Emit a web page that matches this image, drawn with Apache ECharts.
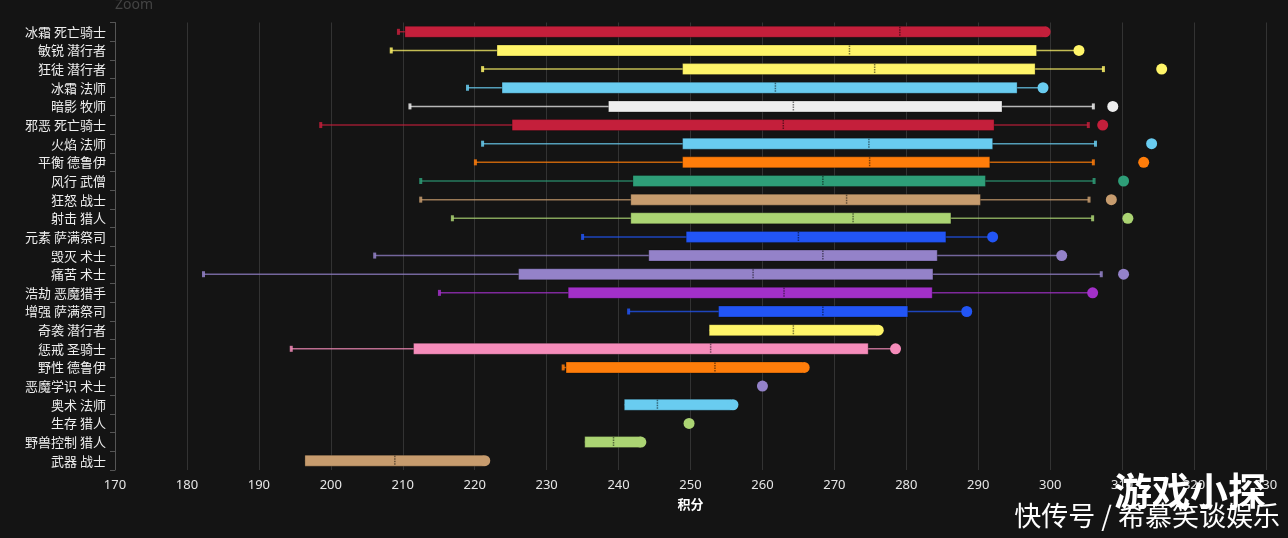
<!DOCTYPE html>
<html>
<head>
<meta charset="utf-8">
<script src="https://cdn.jsdelivr.net/npm/echarts@6/dist/echarts.min.js"></script>
<style>
html,body{margin:0;padding:0;background:#141414;}
#main{width:1288px;height:538px;}
</style>
</head>
<body>
<div id="main"></div>
<script>
const categories = ['冰霜 死亡骑士','敏锐 潜行者','狂徒 潜行者','冰霜 法师','暗影 牧师','邪恶 死亡骑士','火焰 法师','平衡 德鲁伊','风行 武僧','狂怒 战士','射击 猎人','元素 萨满祭司','毁灭 术士','痛苦 术士','浩劫 恶魔猎手','增强 萨满祭司','奇袭 潜行者','惩戒 圣骑士','野性 德鲁伊','恶魔学识 术士','奥术 法师','生存 猎人','野兽控制 猎人','武器 战士'];
const whiskerLow  = [209.4,208.4,221.1,219.0,211.0,198.6,221.1,220.1,212.5,212.5,216.9,235.0,206.1,182.3,215.1,241.4,252.6,194.5,232.3,null,240.8,null,235.3,196.4];
const q1          = [210.3,223.1,248.9,223.8,238.6,225.2,248.9,248.9,242.0,241.7,241.7,249.4,244.2,226.1,233.0,253.9,252.6,211.5,232.7,null,240.8,null,235.3,196.4];
const median      = [279.1,272.1,275.6,261.8,264.3,262.9,274.8,274.9,268.4,271.7,272.6,265.0,268.4,258.7,263.0,268.4,264.3,252.8,253.4,null,245.4,null,239.3,208.9];
const q3          = [299.1,298.1,297.9,295.4,293.3,292.2,292.0,291.6,291.0,290.3,286.2,285.5,284.3,283.7,283.6,280.2,276.0,274.7,265.6,null,255.7,null,243.1,221.3];
const whiskerHigh = [299.3,304.0,307.4,299.0,306.0,305.3,306.3,306.0,306.1,305.4,305.9,292.0,301.6,307.1,305.9,288.4,276.0,278.5,265.6,null,255.7,null,243.1,221.3];
const dotValue    = [299.3,304.0,315.5,299.0,308.7,307.3,314.1,313.0,310.2,308.5,310.8,292.0,301.6,310.2,305.9,288.4,276.1,278.5,265.8,260.0,255.9,249.8,243.1,221.4];
const xTicks = {min:170, max:330, interval:10};

const DK='#C41F3B', ROGUE='#FFF569', MAGE='#69CCF0', PRIEST='#EEEEEE', DRUID='#FF7D0A', MONK='#2E9E78', WARRIOR='#C79C6E', HUNTER='#ABD473', SHAMAN='#2255F5', WARLOCK='#9482C9', DH='#A330C9', PALADIN='#F58CBA';
const rowColors = [DK,ROGUE,ROGUE,MAGE,PRIEST,DK,MAGE,DRUID,MONK,WARRIOR,HUNTER,SHAMAN,WARLOCK,WARLOCK,DH,SHAMAN,ROGUE,PALADIN,DRUID,WARLOCK,MAGE,HUNTER,HUNTER,WARRIOR];

const boxData = categories.map((c,i)=>[i, whiskerLow[i], q1[i], median[i], q3[i], whiskerHigh[i]]);
const dotData = categories.map((c,i)=>({value:[dotValue[i], i], itemStyle:{color:rowColors[i], opacity:1}}));

function renderItem(params, api){
  const i = api.value(0);
  if (whiskerLow[i] == null) return null;
  const col = rowColors[i];
  const pLo = api.coord([api.value(1), i]);
  const pQ1 = api.coord([api.value(2), i]);
  const pMed = api.coord([api.value(3), i]);
  const pQ3 = api.coord([api.value(4), i]);
  const pHi = api.coord([api.value(5), i]);
  const y = pLo[1];
  const bh = 11;
  const children = [];
  if (pHi[0] - pLo[0] > 0.5) {
    children.push({type:'line', shape:{x1:pLo[0], y1:y, x2:pHi[0], y2:y}, style:{stroke:col, lineWidth:1.5, opacity:0.75}});
  }
  if (pQ1[0] - pLo[0] > 0.5) {
    children.push({type:'rect', shape:{x:pLo[0]-1.5, y:y-3, width:3, height:6}, style:{fill:col, opacity:0.85}});
  }
  if (pHi[0] - pQ3[0] > 0.5) {
    children.push({type:'rect', shape:{x:pHi[0]-1.5, y:y-3, width:3, height:6}, style:{fill:col, opacity:0.85}});
  }
  children.push({type:'rect', shape:{x:pQ1[0], y:y-bh/2, width:pQ3[0]-pQ1[0], height:bh}, style:{fill:col, stroke:'rgba(0,0,0,0.25)', lineWidth:1}});
  children.push({type:'line', shape:{x1:pMed[0], y1:y-bh/2+0.5, x2:pMed[0], y2:y+bh/2-0.5}, style:{stroke:'rgba(0,0,0,0.5)', lineWidth:1.5, lineDash:[1.5,1]}});
  return {type:'group', children};
}

const chart = echarts.init(document.getElementById('main'), null, {renderer:'canvas'});
chart.setOption({
  backgroundColor:'#141414',
  animation:false,
  textStyle:{fontFamily:'"Noto Sans CJK SC", "Noto Sans", sans-serif'},
  grid:{left:115, right:22, top:22.5, bottom:68},
  graphic:[
    {type:'text', left:115, top:-2, style:{text:'Zoom', fill:'#444', font:'14px "Noto Sans", sans-serif'}},
    {type:'text', right:22, top:472, z:100, style:{text:'游戏小探', fill:'#ffffff', font:'bold 38px "Noto Sans CJK SC", sans-serif', shadowColor:'rgba(0,0,0,0.6)', shadowBlur:3}},
    {type:'text', right:8, top:502, z:100, style:{text:'快传号 / 希慕笑谈娱乐', fill:'#ffffff', font:'27px "Noto Sans CJK SC", sans-serif', shadowColor:'rgba(0,0,0,0.6)', shadowBlur:3}}
  ],
  xAxis:{
    type:'value', min:xTicks.min, max:xTicks.max, interval:xTicks.interval,
    name:'积分', nameLocation:'middle', nameGap:28,
    nameTextStyle:{color:'#ffffff', fontWeight:'bold', fontSize:13},
    axisLine:{show:false}, axisTick:{show:false},
    axisLabel:{color:'#e6e6e6', fontSize:13, margin:9, fontFamily:'"Noto Sans", sans-serif'},
    splitLine:{show:true, lineStyle:{color:'#333333', width:1}}
  },
  yAxis:{
    type:'category', data:categories, inverse:true,
    axisLine:{show:true, lineStyle:{color:'#555555'}},
    axisTick:{show:true, length:5, lineStyle:{color:'#555555'}},
    axisLabel:{color:'#eeeeee', fontSize:13, margin:9},
    splitLine:{show:false}
  },
  series:[
    {type:'custom', renderItem:renderItem, data:boxData, encode:{x:[1,2,3,4,5], y:0}, z:2},
    {type:'scatter', data:dotData, symbolSize:11, z:3, itemStyle:{opacity:1}}
  ]
});
</script>
</body>
</html>
